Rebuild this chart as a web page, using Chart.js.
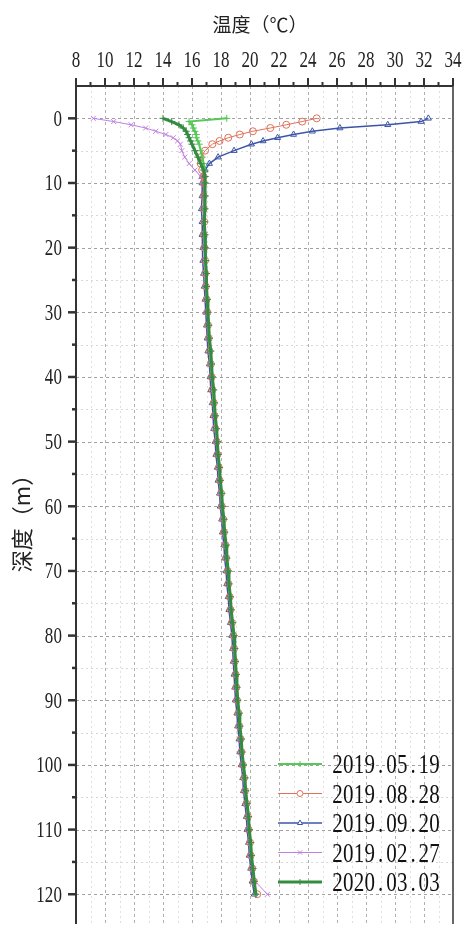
<!DOCTYPE html>
<html>
<head>
<meta charset="utf-8">
<script src="https://cdn.jsdelivr.net/npm/chart.js@4.4.1/dist/chart.umd.min.js"></script>
<style>
  html, body { margin: 0; padding: 0; background: #fff; overflow: hidden; }
  #wrap { position: relative; width: 464px; height: 929px; }
</style>
</head>
<body>
<div id="wrap"><canvas id="tempChart" width="464" height="929"></canvas></div>
<script>
// depth (m), shared by all profiles
const depth = [0, 0.5, 1, 1.5, 2, 2.5, 3, 3.5, 4, 5, 6, 7, 8, 9, 10,
  12, 14, 16, 18, 20, 22, 24, 26, 28, 30,
  32, 34, 36, 38, 40, 42, 44, 46, 48, 50,
  52, 54, 56, 58, 60, 62, 64, 66, 68, 70,
  72, 74, 76, 78, 80, 82, 84, 86, 88, 90,
  92, 94, 96, 98, 100, 102, 104, 106, 108, 110,
  112, 114, 116, 118, 120];

// temperature (C) per survey date
const t0519 = [18.4, 15.8, 16.0, 16.1, 16.2, 16.3, 16.3, 16.4, 16.5, 16.6, 16.7, 16.8, 16.9, 16.9, 16.9,
  16.9, 16.85, 16.9, 16.85, 16.9, 16.95, 16.95, 17.0, 17.05, 17.1,
  17.15, 17.2, 17.25, 17.3, 17.4, 17.45, 17.5, 17.6, 17.65, 17.75,
  17.8, 17.9, 17.95, 18.05, 18.1, 18.2, 18.25, 18.35, 18.4, 18.5,
  18.55, 18.65, 18.7, 18.8, 18.9, 18.95, 19.0, 19.05, 19.1, 19.15,
  19.25, 19.3, 19.4, 19.45, 19.55, 19.65, 19.7, 19.8, 19.9, 19.95,
  20.05, 20.1, 20.2, 20.3, 20.4];
const t0828 = [24.6, 23.6, 22.5, 21.4, 20.2, 19.3, 18.5, 17.9, 17.4, 16.9, 16.6, 16.6, 16.7, 16.8, 16.8,
  16.8, 16.8, 16.85, 16.8, 16.85, 16.9, 16.9, 16.95, 17.0, 17.05,
  17.1, 17.15, 17.2, 17.3, 17.35, 17.4, 17.5, 17.55, 17.6, 17.7,
  17.75, 17.85, 17.9, 18.0, 18.05, 18.15, 18.2, 18.3, 18.35, 18.45,
  18.5, 18.6, 18.65, 18.75, 18.85, 18.9, 18.95, 19.0, 19.05, 19.1,
  19.2, 19.25, 19.35, 19.4, 19.5, 19.6, 19.65, 19.75, 19.85, 19.9,
  20.0, 20.05, 20.15, 20.25, 20.5];
const t0920 = [32.3, 31.8, 29.5, 26.2, 24.3, 23.0, 21.9, 20.9, 20.1, 18.9, 17.8, 17.2, 16.9, 16.7, 16.7,
  16.7, 16.65, 16.7, 16.7, 16.75, 16.75, 16.8, 16.85, 16.9, 16.95,
  17.0, 17.05, 17.1, 17.2, 17.25, 17.3, 17.4, 17.45, 17.5, 17.6,
  17.65, 17.75, 17.8, 17.9, 17.95, 18.05, 18.1, 18.2, 18.25, 18.35,
  18.4, 18.5, 18.55, 18.65, 18.75, 18.8, 18.85, 18.9, 18.95, 19.0,
  19.1, 19.15, 19.25, 19.3, 19.4, 19.5, 19.55, 19.65, 19.75, 19.8,
  19.9, 19.95, 20.05, 20.15, 20.3];
const t0227 = [9.2, 10.6, 11.8, 12.8, 13.5, 14.2, 14.7, 15.0, 15.2, 15.3, 15.5, 15.8, 16.2, 16.6, 16.8,
  16.85, 16.8, 16.8, 16.9, 16.85, 16.9, 16.95, 17.0, 17.0, 17.1,
  17.15, 17.2, 17.25, 17.3, 17.4, 17.45, 17.5, 17.6, 17.65, 17.7,
  17.8, 17.85, 17.95, 18.0, 18.1, 18.15, 18.25, 18.3, 18.4, 18.45,
  18.55, 18.6, 18.7, 18.8, 18.85, 18.9, 18.95, 19.05, 19.1, 19.15,
  19.2, 19.3, 19.35, 19.45, 19.5, 19.6, 19.7, 19.75, 19.85, 19.95,
  20.0, 20.1, 20.2, 20.35, 21.2];
const t0303 = [14.0, 14.6, 15.1, 15.4, 15.6, 15.7, 15.8, 15.9, 16.0, 16.2, 16.4, 16.6, 16.8, 16.9, 16.9,
  16.9, 16.9, 16.85, 16.9, 16.9, 16.95, 17.0, 17.0, 17.05, 17.1,
  17.15, 17.2, 17.3, 17.35, 17.4, 17.5, 17.55, 17.6, 17.7, 17.75,
  17.8, 17.9, 17.95, 18.05, 18.1, 18.2, 18.25, 18.35, 18.4, 18.5,
  18.55, 18.65, 18.7, 18.8, 18.9, 18.95, 19.0, 19.05, 19.1, 19.15,
  19.25, 19.3, 19.4, 19.45, 19.55, 19.65, 19.7, 19.8, 19.9, 19.95,
  20.05, 20.1, 20.2, 20.3, 20.4];

const seriesLabels = ['2019.05.19', '2019.08.28', '2019.09.20', '2019.02.27', '2020.03.03'];
const xTicks = [8, 10, 12, 14, 16, 18, 20, 22, 24, 26, 28, 30, 32, 34];
const yTicks = [0, 10, 20, 30, 40, 50, 60, 70, 80, 90, 100, 110, 120];

function pts(temps) {
  return temps.map((t, i) => ({ x: t, y: depth[i] }));
}

// narrow, tall serif digits like the original plot font
function drawNarrow(ctx, text, x, baseline, align, size, advance, stretch) {
  const w = text.length * advance;
  const left = align === 'center' ? x - w / 2 : (align === 'right' ? x - w : x);
  ctx.font = size + 'px "Liberation Serif"';
  ctx.textAlign = 'center';
  ctx.textBaseline = 'alphabetic';
  for (let i = 0; i < text.length; i++) {
    ctx.save();
    ctx.translate(left + advance * (i + 0.5), baseline);
    ctx.scale(1, stretch);
    ctx.fillText(text[i], 0, 0);
    ctx.restore();
  }
}

const frame = {
  id: 'frame',
  beforeDatasetsDraw(chart) {
    const { ctx, chartArea: a, scales: { x, y } } = chart;
    ctx.save();
    ctx.beginPath();
    ctx.rect(a.left, a.top, a.right - a.left, a.bottom - a.top);
    ctx.clip();
    ctx.lineWidth = 1;
    for (let v = 9; v < 34; v++) {
      const px = Math.round(x.getPixelForValue(v)) + 0.5;
      ctx.strokeStyle = v % 2 === 0 ? '#b0b0b0' : '#e0e0e0';
      ctx.setLineDash(v % 2 === 0 ? [3, 3] : [2, 3]);
      ctx.beginPath(); ctx.moveTo(px, a.top); ctx.lineTo(px, a.bottom); ctx.stroke();
    }
    for (let v = 0; v <= 120; v += 5) {
      const py = Math.round(y.getPixelForValue(v)) + 0.5;
      ctx.strokeStyle = v % 10 === 0 ? '#a0a0a0' : '#d8d8d8';
      ctx.setLineDash(v % 10 === 0 ? [3, 3] : [2, 3]);
      ctx.beginPath(); ctx.moveTo(a.left, py); ctx.lineTo(a.right, py); ctx.stroke();
    }
    ctx.restore();
  },
  afterDatasetsDraw(chart) {
    const { ctx, chartArea: a, scales: { x, y } } = chart;
    ctx.save();
    ctx.setLineDash([]);
    ctx.strokeStyle = '#333';
    ctx.fillStyle = '#222';

    // axis lines
    ctx.lineWidth = 2;
    ctx.beginPath();
    ctx.moveTo(a.left, a.bottom); ctx.lineTo(a.left, a.top); ctx.lineTo(a.right, a.top);
    ctx.stroke();
    ctx.lineWidth = 1.5;
    ctx.beginPath(); ctx.moveTo(a.right, a.top); ctx.lineTo(a.right, a.bottom); ctx.stroke();

    // top ticks
    for (let v = 8; v <= 34; v++) {
      const px = x.getPixelForValue(v);
      ctx.lineWidth = 2;
      ctx.beginPath(); ctx.moveTo(px, a.top); ctx.lineTo(px, a.top - (v % 2 === 0 ? 8 : 4)); ctx.stroke();
    }
    xTicks.forEach(v => drawNarrow(ctx, String(v), x.getPixelForValue(v), 67, 'center', 17, 8.5, 1.35));

    // left ticks
    for (let v = 0; v <= 120; v += 5) {
      const py = y.getPixelForValue(v);
      ctx.lineWidth = 2.5;
      ctx.beginPath(); ctx.moveTo(a.left, py); ctx.lineTo(a.left - (v % 10 === 0 ? 8 : 4), py); ctx.stroke();
    }
    yTicks.forEach(v => drawNarrow(ctx, String(v), 62, y.getPixelForValue(v) + 7.5, 'right', 17, 8.6, 1.35));

    // axis titles
    ctx.font = '19px "Noto Sans CJK SC"';
    ctx.textAlign = 'center';
    ctx.textBaseline = 'middle';
    ctx.fillText('温度（℃）', 260, 25);
    ctx.save();
    ctx.translate(22, 518);
    ctx.rotate(-Math.PI / 2);
    ctx.font = '22px "Noto Sans CJK SC"';
    ctx.fillText('深度（m）', 0, 0);
    ctx.restore();

    // legend inside the plot, bottom right
    chart.data.datasets.forEach((ds, i) => {
      const cy = 764 + i * 29.5;
      ctx.strokeStyle = ds.borderColor;
      ctx.fillStyle = '#fff';
      ctx.lineWidth = ds.borderWidth;
      ctx.beginPath(); ctx.moveTo(278, cy); ctx.lineTo(322, cy); ctx.stroke();
      ctx.lineWidth = 1;
      Chart.helpers.drawPoint(ctx, { pointStyle: ds.pointStyle, radius: 3, borderWidth: 1, rotation: 0 }, 300, cy);
      ctx.fillStyle = '#111';
      drawNarrow(ctx, seriesLabels[i], 332, cy + 9, 'left', 21, 10.8, 1.3);
    });
    ctx.restore();
  }
};

function series(label, temps, color, style, width, order) {
  return {
    label: label,
    data: pts(temps),
    borderColor: color,
    backgroundColor: color,
    pointBorderColor: color,
    pointBackgroundColor: 'rgba(255,255,255,0)',
    pointStyle: style,
    pointRadius: 3.5,
    pointBorderWidth: 1,
    borderWidth: width,
    showLine: true,
    order: order
  };
}

new Chart(document.getElementById('tempChart'), {
  type: 'scatter',
  data: {
    datasets: [
      series(seriesLabels[0], t0519, '#55c855', 'cross', 2, 1),
      series(seriesLabels[1], t0828, '#e0705a', 'circle', 1, 2),
      series(seriesLabels[2], t0920, '#3d55a8', 'triangle', 1.5, 4),
      series(seriesLabels[3], t0227, '#c080e0', 'crossRot', 1, 3),
      series(seriesLabels[4], t0303, '#348c40', 'cross', 3, 0)
    ]
  },
  options: {
    responsive: false,
    animation: false,
    devicePixelRatio: 1,
    layout: { padding: { left: 76, top: 86, right: 11, bottom: 0 } },
    plugins: { legend: { display: false }, tooltip: { enabled: false } },
    scales: {
      x: { type: 'linear', min: 8, max: 34, display: false },
      y: { type: 'linear', min: -5, max: 124.6, reverse: true, display: false }
    }
  },
  plugins: [frame]
});
</script>
</body>
</html>
